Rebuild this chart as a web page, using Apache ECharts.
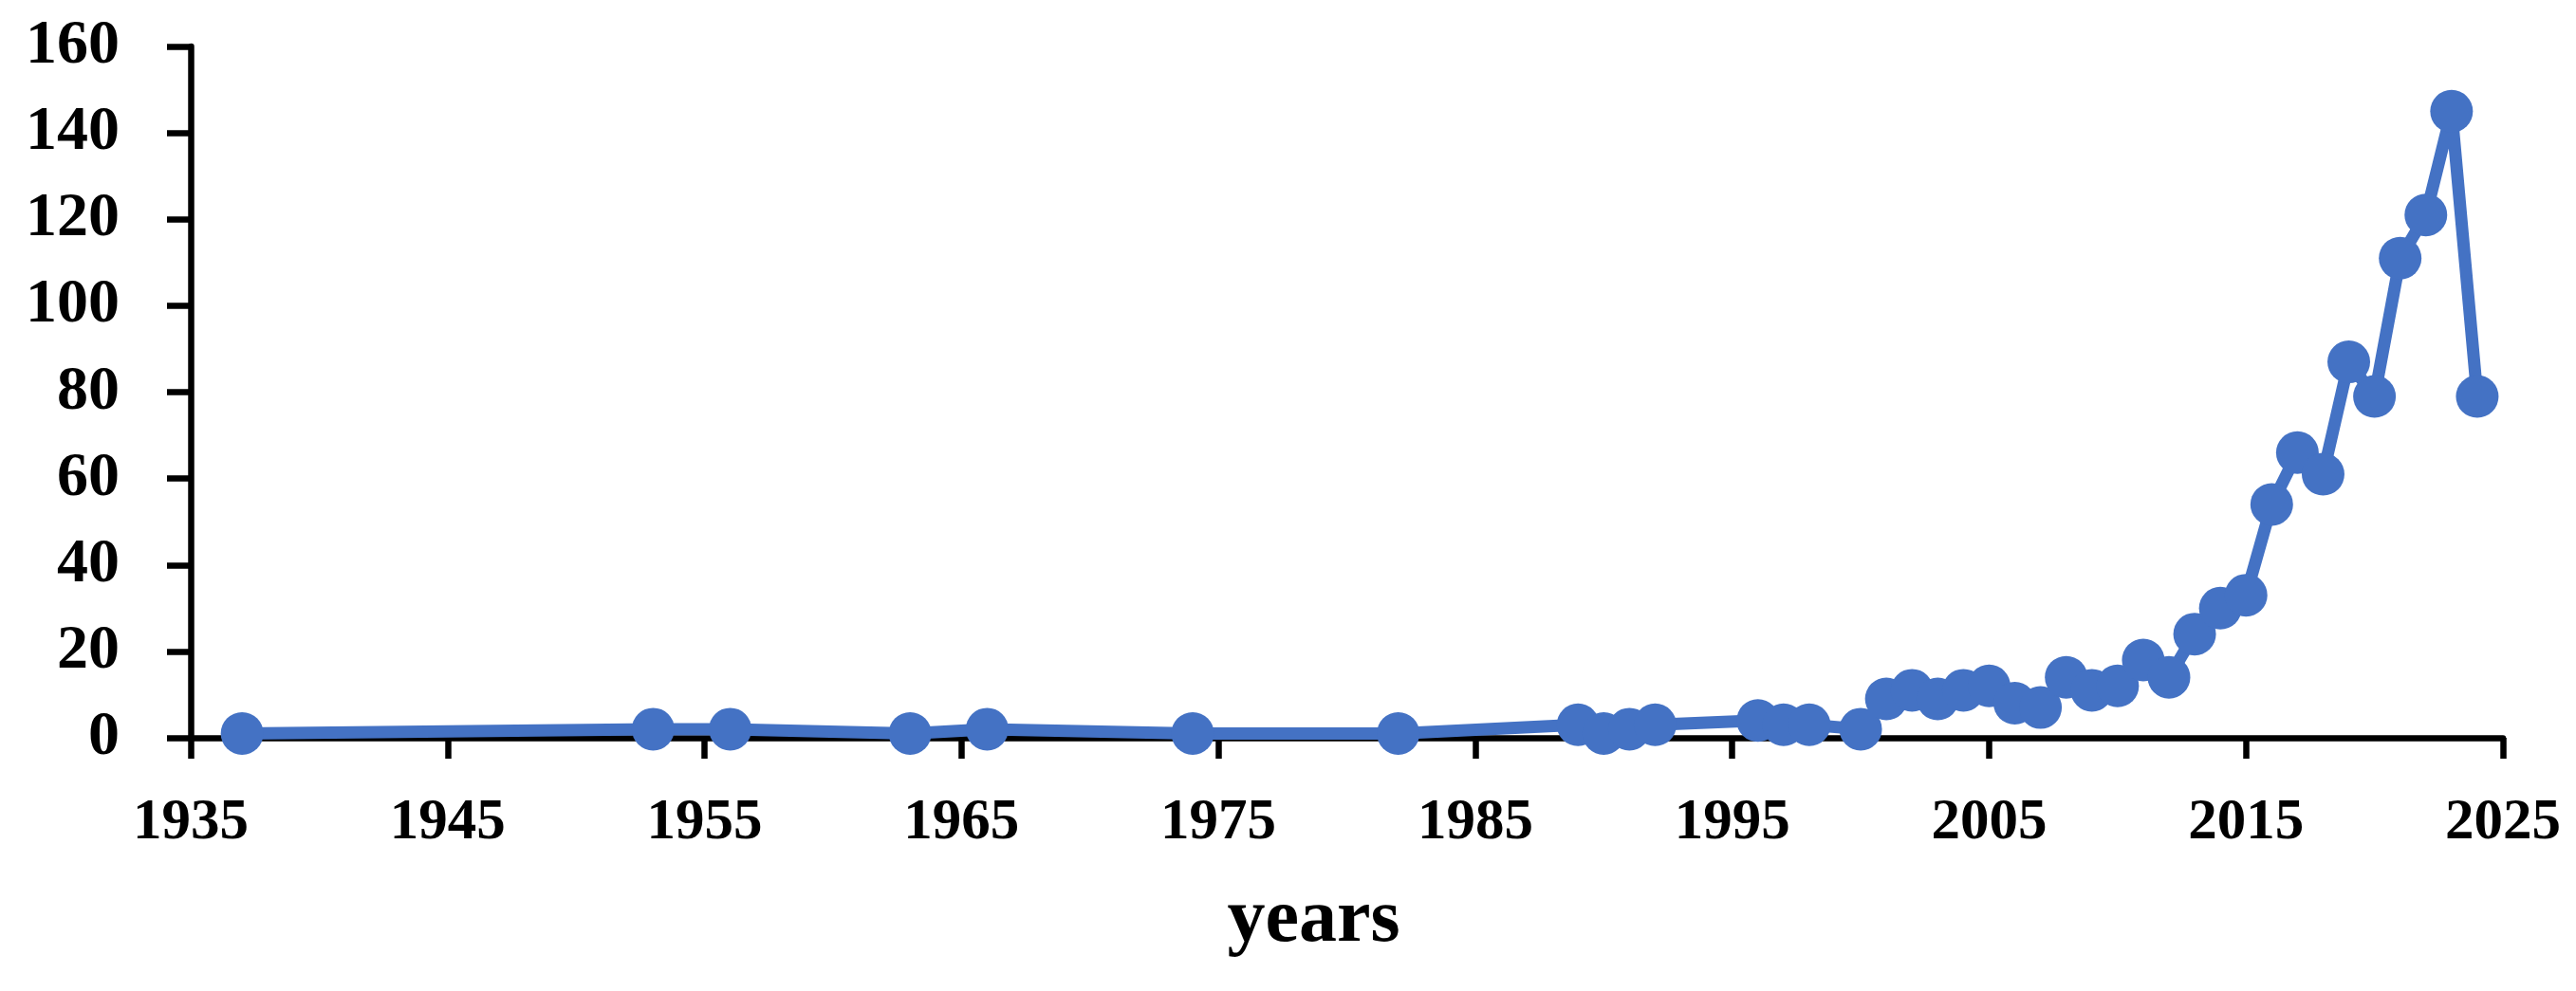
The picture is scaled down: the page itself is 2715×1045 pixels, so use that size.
<!DOCTYPE html>
<html>
<head>
<meta charset="utf-8">
<script src="https://cdn.jsdelivr.net/npm/echarts@6/dist/echarts.min.js"></script>
<style>
html,body{margin:0;padding:0;background:#fff;}
#chart{width:2715px;height:1045px;}
</style>
</head>
<body>
<div id="chart"></div>
<script>
const years = [1937,1953,1956,1963,1966,1974,1982,1989,1990,1991,1992,1996,1997,1998,2000,2001,2002,2003,2004,2005,2006,2007,2008,2009,2010,2011,2012,2013,2014,2015,2016,2017,2018,2019,2020,2021,2022,2023,2024];
const counts = [1,2,2,1,2,1,1,3,1,2,3,4,3,3,2,9,11,9,11,12,8,7,14,11,12,18,14,24,30,33,54,66,61,87,79,111,121,145,79];
const xTicks = [1935,1945,1955,1965,1975,1985,1995,2005,2015,2025];
const yTicks = [0,20,40,60,80,100,120,140,160];
const xTitle = 'years';

const chart = echarts.init(document.getElementById('chart'), null, {renderer:'canvas'});
const font = '"Liberation Serif", "Times New Roman", serif';
const seriesData = years.map((y,i)=>[y, counts[i]]);

chart.setOption({
  animation:false,
  backgroundColor:'#ffffff',
  grid:{left:201, right:77, top:49, bottom:267, containLabel:false},
  xAxis:{
    type:'value', min:xTicks[0], max:xTicks[xTicks.length-1], interval:10,
    name:xTitle, nameLocation:'middle', nameGap:153,
    nameTextStyle:{fontFamily:font, fontWeight:'bold', fontSize:80, color:'#000', padding:[0,70,0,0]},
    axisLine:{show:true, onZero:false, lineStyle:{color:'#000', width:6.5}},
    axisTick:{show:true, length:22, lineStyle:{color:'#000', width:6.5}, customValues:xTicks},
    axisLabel:{fontFamily:font, fontWeight:'bold', fontSize:61, color:'#000', margin:60, customValues:xTicks,
      formatter:(v)=>String(v)},
    splitLine:{show:false}
  },
  yAxis:{
    type:'value', min:yTicks[0], max:yTicks[yTicks.length-1], interval:20,
    axisLine:{show:true, lineStyle:{color:'#000', width:6.5}},
    axisTick:{show:true, length:25, lineStyle:{color:'#000', width:6.5}},
    axisLabel:{fontFamily:font, fontWeight:'bold', fontSize:66, color:'#000', margin:75,
      formatter:(v)=>String(v)},
    splitLine:{show:false}
  },
  series:[{
    type:'line',
    data:seriesData,
    symbol:'circle', symbolSize:45,
    lineStyle:{color:'#4472C4', width:13},
    itemStyle:{color:'#4472C4'},
    z:5
  }]
});
</script>
</body>
</html>
